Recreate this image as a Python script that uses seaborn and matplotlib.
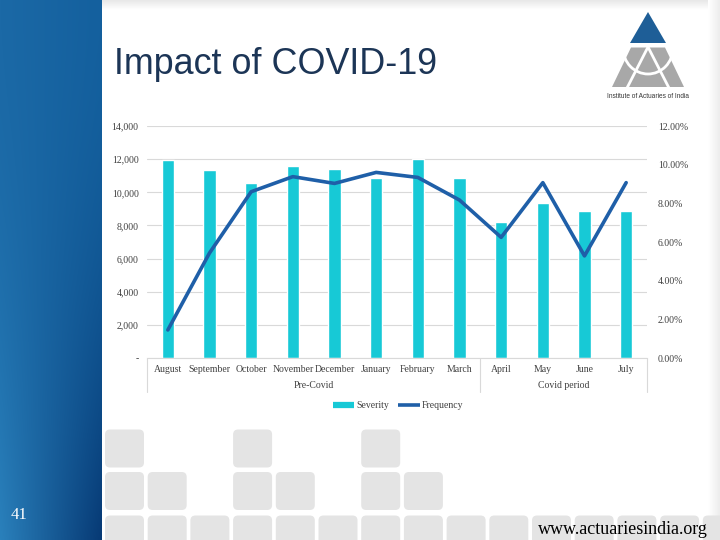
import numpy as np
import pandas as pd
import matplotlib.pyplot as plt
import seaborn as sns
from matplotlib.patches import FancyBboxPatch, Polygon, Arc
from matplotlib.lines import Line2D
from matplotlib.ticker import FixedLocator, FuncFormatter

# ---------------
# Data
# ---------------
months = ["August", "September", "October", "November", "December", "January",
          "February", "March", "April", "May", "June", "July"]
periods = ["Pre-Covid"] * 8 + ["Covid period"] * 4
severity = [11950, 11350, 10580, 11600, 11430, 10860, 12010, 10880, 8210, 9350, 8890, 8890]
frequency = [1.45, 5.43, 8.60, 9.38, 9.03, 9.60, 9.34, 8.17, 6.24, 9.07, 5.28, 9.07]  # %

df = pd.DataFrame({"month": months, "period": periods,
                   "severity": severity, "frequency": frequency})

bar_color = "#17c9d6"
line_color = "#1f5fa8"
grid_color = "#d9d9d9"

sns.set_style("white")
plt.rcParams["font.family"] = ["Liberation Serif", "DejaVu Serif"]

fig = plt.figure(figsize=(7.2, 5.4), dpi=100)

# ---------------
# Slide background (pixel coords)
# ---------------
bg = fig.add_axes([0, 0, 1, 1])

# blue side panel with gradient
tl = np.array([0x1b, 0x69, 0xa6]) / 255
tr = np.array([0x14, 0x60, 0x9e]) / 255
bl = np.array([0x2a, 0x80, 0xbb]) / 255
br = np.array([0x07, 0x3a, 0x75]) / 255
gx = np.linspace(0, 1, 60)[None, :, None]
gy = (np.linspace(0, 1, 120) ** 2)[:, None, None]
grad = (1 - gy) * ((1 - gx) * tl + gx * tr) + gy * ((1 - gx) * bl + gx * br)
bg.imshow(grad, extent=[0, 102, 540, 0], aspect="auto", interpolation="bilinear")

# soft shadows at top and right
top_sh = np.linspace(0.91, 1.0, 12)[:, None, None] * np.ones((1, 2, 3))
bg.imshow(top_sh, extent=[102, 720, 10, 0], aspect="auto", interpolation="bilinear")
right_sh = np.linspace(1.0, 0.93, 16)[None, :, None] * np.ones((2, 1, 3))
bg.imshow(right_sh, extent=[708, 720, 540, 0], aspect="auto", interpolation="bilinear")
bg.set_xlim(0, 720)
bg.set_ylim(540, 0)
bg.axis("off")

# grey rounded tiles at the bottom
rows = [(429.5, [0, 3, 6]), (472, [0, 1, 3, 4, 6, 7]), (515.5, list(range(15)))]
for y0, cols in rows:
    for c in cols:
        bg.add_patch(FancyBboxPatch((105 + c * 42.7, y0), 39, 38,
                                    boxstyle="round,pad=0,rounding_size=5",
                                    fc="#e4e4e4", ec="none"))

# title, page number, website
bg.text(114, 64, "Impact of COVID-19", fontsize=25.8, color="#1c3556",
        family="Liberation Sans", va="center", ha="left")
bg.text(19, 515, "41", fontsize=12, color="white", va="center", ha="center")
bg.text(708, 529, "www.actuariesindia.org", fontsize=13, color="black",
        va="center", ha="right")

# logo
bg.add_patch(Polygon([(648, 12), (630, 43), (666, 43)], closed=True,
                     fc="#1e5e97", ec="none"))
bg.add_patch(Polygon([(631, 47.5), (665, 47.5), (684, 87), (612, 87)], closed=True,
                     fc="#a8a8a8", ec="none"))
bg.plot([648, 627], [47, 88], color="white", lw=2)
bg.plot([648, 669], [47, 88], color="white", lw=2)
bg.add_patch(Arc((648, 48), 50, 52, theta1=0, theta2=180, color="white", lw=2))
bg.text(648, 96, "Institute of Actuaries of India", fontsize=4.7, color="#333333",
        family="Liberation Sans", ha="center", va="center")

# ---------------
# Chart
# ---------------
ax = fig.add_axes([147 / 720, 1 - 358 / 540, 500 / 720, 232 / 540])
ax.patch.set_alpha(0)
sns.barplot(data=df, x="month", y="severity", color=bar_color, saturation=1,
            width=0.29, ax=ax, zorder=2)
ax.set_ylim(0, 14000)
ax.set_xlim(-0.5, 11.5)
ax.yaxis.set_major_locator(FixedLocator(range(0, 14001, 2000)))
ax.yaxis.set_major_formatter(FuncFormatter(lambda v, p: "-" if v == 0 else f"{v:,.0f}"))
ax.grid(axis="y", color=grid_color, lw=0.8)
ax.set_axisbelow(True)
for s in ["top", "left", "right"]:
    ax.spines[s].set_visible(False)
ax.spines["bottom"].set_color(grid_color)
ax.tick_params(axis="both", length=0, labelsize=7, colors="#404040")
ax.tick_params(axis="y", pad=6)
ax.tick_params(axis="x", pad=5)
ax.set_xlabel("")
ax.set_ylabel("")

ax2 = ax.twinx()
sns.lineplot(x=np.arange(len(months)), y=df["frequency"], color=line_color,
             lw=2.6, ax=ax2)
ax2.set_ylim(0, 12)
ax2.set_xlim(-0.5, 11.5)
ax2.yaxis.set_major_locator(FixedLocator(range(0, 13, 2)))
ax2.yaxis.set_major_formatter(FuncFormatter(lambda v, p: f"{v:.2f}%"))
ax2.tick_params(axis="y", length=0, labelsize=7, colors="#404040", pad=8)
for s in ax2.spines.values():
    s.set_visible(False)
ax2.set_ylabel("")

# multi-level category axis
trans = ax.get_xaxis_transform()
for x in [-0.5, 7.5, 11.5]:
    ax.plot([x, x], [0, -0.147], color=grid_color, lw=0.8, transform=trans,
            clip_on=False)
for name in ["Pre-Covid", "Covid period"]:
    idx = df.index[df["period"] == name]
    ax.text((idx.min() + idx.max()) / 2, -0.118, name, transform=trans,
            ha="center", va="center", fontsize=7, color="#404040")

# legend
handles = [Line2D([], [], color=bar_color, lw=4.5, solid_capstyle="butt"),
           Line2D([], [], color=line_color, lw=2.6, solid_capstyle="butt")]
fig.legend(handles, ["Severity", "Frequency"], loc="center",
           bbox_to_anchor=(398 / 720, 1 - 406 / 540), ncol=2, frameon=False,
           fontsize=7, handlelength=2.2, handletextpad=0.2, columnspacing=1.0,
           labelcolor="#404040")

fig.savefig("out.png", dpi=100)
